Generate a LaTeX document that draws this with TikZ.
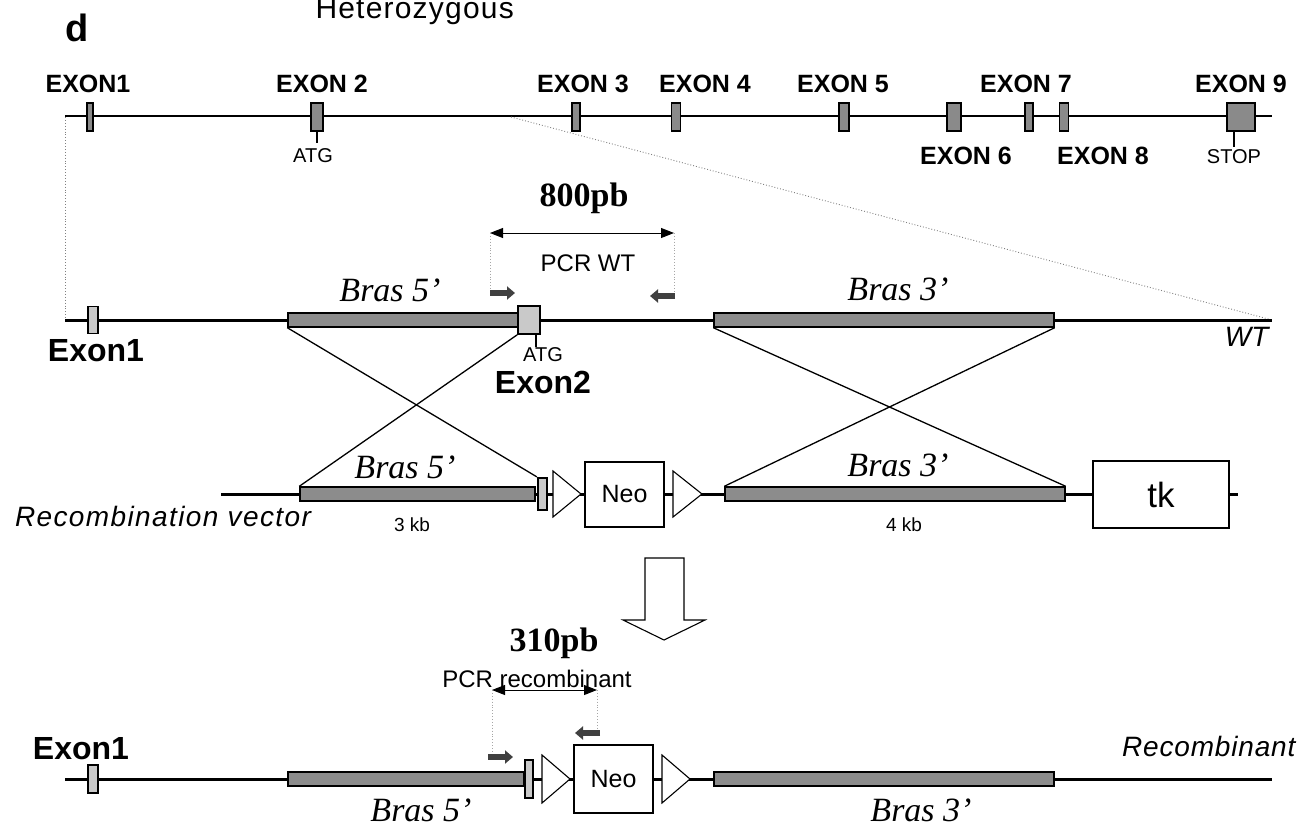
\documentclass[tikz,border=0pt]{standalone}
\usepackage{fontspec}
\setmainfont{Liberation Serif}
\setsansfont{Liberation Sans}
\usetikzlibrary{arrows.meta}
\newcommand{\fsz}[1]{\fontsize{#1}{#1}\selectfont}
\definecolor{armgray}{HTML}{8C8C8C}
\definecolor{exgray}{HTML}{8A8A8A}
\definecolor{lightex}{HTML}{C9C9C9}
\definecolor{primercol}{HTML}{404040}

\begin{document}
\begin{tikzpicture}[x=1pt,y=-1pt,
  dna/.style={line width=3},
  exon/.style={draw,fill=exgray,line width=1.4,inner sep=0,minimum height=28},
  wtexon/.style={draw,fill=lightex,line width=1.6,inner sep=0},
  arm/.style={draw,fill=armgray,line width=1.4,inner sep=0,minimum height=14},
  lox/.style={draw,fill=white,line width=1.1},
  cassette/.style={draw,fill=white,line width=1.4,inner sep=0,font=\sffamily},
  cross/.style={line width=1.3},
  guide/.style={gray,dotted,line width=0.9},
  primer/.style={primercol,line width=6,-{Triangle[length=8pt,width=13pt]}},
  span/.style={line width=1,{Triangle[length=13pt,width=10pt]}-{Triangle[length=13pt,width=10pt]}},
  exlab/.style={font=\sffamily\bfseries\fsz{25}},
  biglab/.style={font=\sffamily\bfseries\fsz{32}},
  small/.style={font=\sffamily\fsz{20}},
  arms/.style={font=\itshape\fsz{34}},
  size/.style={font=\bfseries\fsz{34}},
  pcr/.style={font=\sffamily\fsz{24}},
  kb/.style={font=\sffamily\fsz{19}},
  rowlab/.style={font=\sffamily\itshape\fsz{28}\addfontfeature{LetterSpace=5}}]
\useasboundingbox (0,0) rectangle (1315,827);

% panel letter and title
\node[font=\sffamily\bfseries\fsz{38}] (panel) at (77,28) {d};
\node[font=\sffamily\fsz{30}\addfontfeature{LetterSpace=4},anchor=base west] (title) at (312,18) {Heterozygous};

% genomic locus
\draw[dna,line width=2.4] (65,116) -- (1272,116);
\foreach \xc/\w/\lab/\lx/\ly [count=\i] in {
    90/6/EXON1/88/84, 317/12/EXON 2/322/84, 576/8/EXON 3/583/84,
    676/9/EXON 4/705/84, 844/10/EXON 5/843/84, 954/14/EXON 6/966/156,
    1029/8/EXON 7/1026/84, 1064/9/EXON 8/1103/156, 1241/28/EXON 9/1241/84} {
  \node[exon,minimum width=\w] (ex\i) at (\xc,117) {};
  \node[exlab] (exlab\i) at (\lx,\ly) {\lab};
}
\draw[line width=1.1] (ex2.south) -- ++(0,11) coordinate (atgtick);
\node[small] (atg) at (313,156) {ATG};
\draw[line width=1.1] (1234,131) coordinate (stoptop) -- (1234,147) coordinate (stoptick);
\node[small] (stop) at (1234,157) {STOP};

% zoom guides
\draw[guide] (65,117) -- (65,320);
\draw[guide] (511,117) -- (1272,320);

% wild type allele
\draw[dna] (65,320) -- (1272,320);
\node[wtexon,minimum width=10,minimum height=27] (wtex1) at (93,320) {};
\node[biglab] (wtex1lab) at (96,351) {Exon1};
\node[arm,minimum width=236] (wtarm5) at (406,320) {};
\node[wtexon,minimum width=22,minimum height=28] (wtex2) at (529,320) {};
\draw[line width=1.1] (536,334) -- (536,347);
\node[small] (wtatg) at (543,355) {ATG};
\node[biglab] (wtex2lab) at (543,382) {Exon2};
\node[arm,minimum width=340] (wtarm3) at (884,320) {};
\node[arms] (wtb5) at (390,290) {Bras 5’};
\node[arms] (wtb3) at (898,289) {Bras 3’};
\node[font=\sffamily\itshape\fsz{28},anchor=east] (wt) at (1272,337) {WT};

% PCR WT
\node[size] (wtsize) at (584,198) {800pb};
\coordinate (wtL) at (490,233);
\coordinate (wtR) at (674,233);
\draw[span] (wtL) -- (wtR);
\node[pcr] (wtpcr) at (588,263) {PCR WT};
\draw[guide,gray!70] (wtL) -- (490,293);
\draw[guide,gray!70] (wtR) -- (674,296);
\draw[primer] (490,293) -- (515,293);
\draw[primer] (675,296) -- (650,296);

% recombination vector
\draw[dna] (221,494) -- (1238,494);
\node[arm,minimum width=235] (varm5) at (417.5,494) {};
\node[wtexon,line width=2.2,minimum width=9,minimum height=32] (vlox) at (542.5,494) {};
\draw[lox] (553,471) -- (581,494) -- (553,517) -- cycle;
\node[cassette,minimum width=79,minimum height=65] (vneo) at (624.5,494.5) {\fsz{25}Neo};
\draw[lox] (673,471) -- (702,494) -- (673,517) -- cycle;
\node[arm,minimum width=340] (varm3) at (895,494) {};
\node[cassette,minimum width=136,minimum height=67] (tk) at (1161,494.5) {\fsz{35}tk};
\node[arms] (vb5) at (405,467) {Bras 5’};
\node[arms] (vb3) at (898,465) {Bras 3’};
\node[kb] (kb3) at (412,525) {3 kb};
\node[kb] (kb4) at (904,525) {4 kb};
\node[rowlab] (vlab) at (163,516) {Recombination vector};

% crossovers
\draw[cross] (wtarm5.south west) -- (vlox.north west);
\draw[cross] (wtex2.south west) -- (varm5.north west);
\draw[cross] (wtarm3.south west) -- (varm3.north east);
\draw[cross] (wtarm3.south east) -- (varm3.north west);

% big arrow
\draw[line width=1.1,fill=white] (645,558) -- (684,558) -- (684,620) -- (705,620)
  -- (664,640) -- (623,620) -- (645,620) -- cycle;

% recombinant allele
\draw[dna] (65,779) -- (1272,779);
\node[wtexon,minimum width=10,minimum height=28] (rex1) at (93,779) {};
\node[biglab] (rex1lab) at (81,749) {Exon1};
\node[arm,minimum width=236] (rarm5) at (406,779) {};
\node[wtexon,line width=2.2,minimum width=8,minimum height=38] (rlox) at (529,779) {};
\draw[lox] (542,755) -- (570,779) -- (542,803) -- cycle;
\node[cassette,minimum width=79,minimum height=68] (rneo) at (613.5,779) {\fsz{25}Neo};
\draw[lox] (662,755) -- (690,779) -- (662,803) -- cycle;
\node[arm,minimum width=340] (rarm3) at (884,779) {};
\node[arms] (rb5) at (421,810) {Bras 5’};
\node[arms] (rb3) at (921,810) {Bras 3’};
\node[rowlab,anchor=east,font=\sffamily\itshape\fsz{28}\addfontfeature{LetterSpace=3}] (rlab) at (1299,746) {Recombinant};

% PCR recombinant
\node[size] (rsize) at (554,643) {310pb};
\node[pcr] (rpcr) at (537,679) {PCR recombinant};
\coordinate (rL) at (492,690);
\coordinate (rR) at (597,690);
\draw[span] (rL) -- (rR);
\draw[guide,gray!70] (rL) -- (492,757);
\draw[guide,gray!70] (rR) -- (597,733);
\draw[primer] (488,757) -- (513,757);
\draw[primer] (600,733) -- (575,733);
\end{tikzpicture}
\end{document}
